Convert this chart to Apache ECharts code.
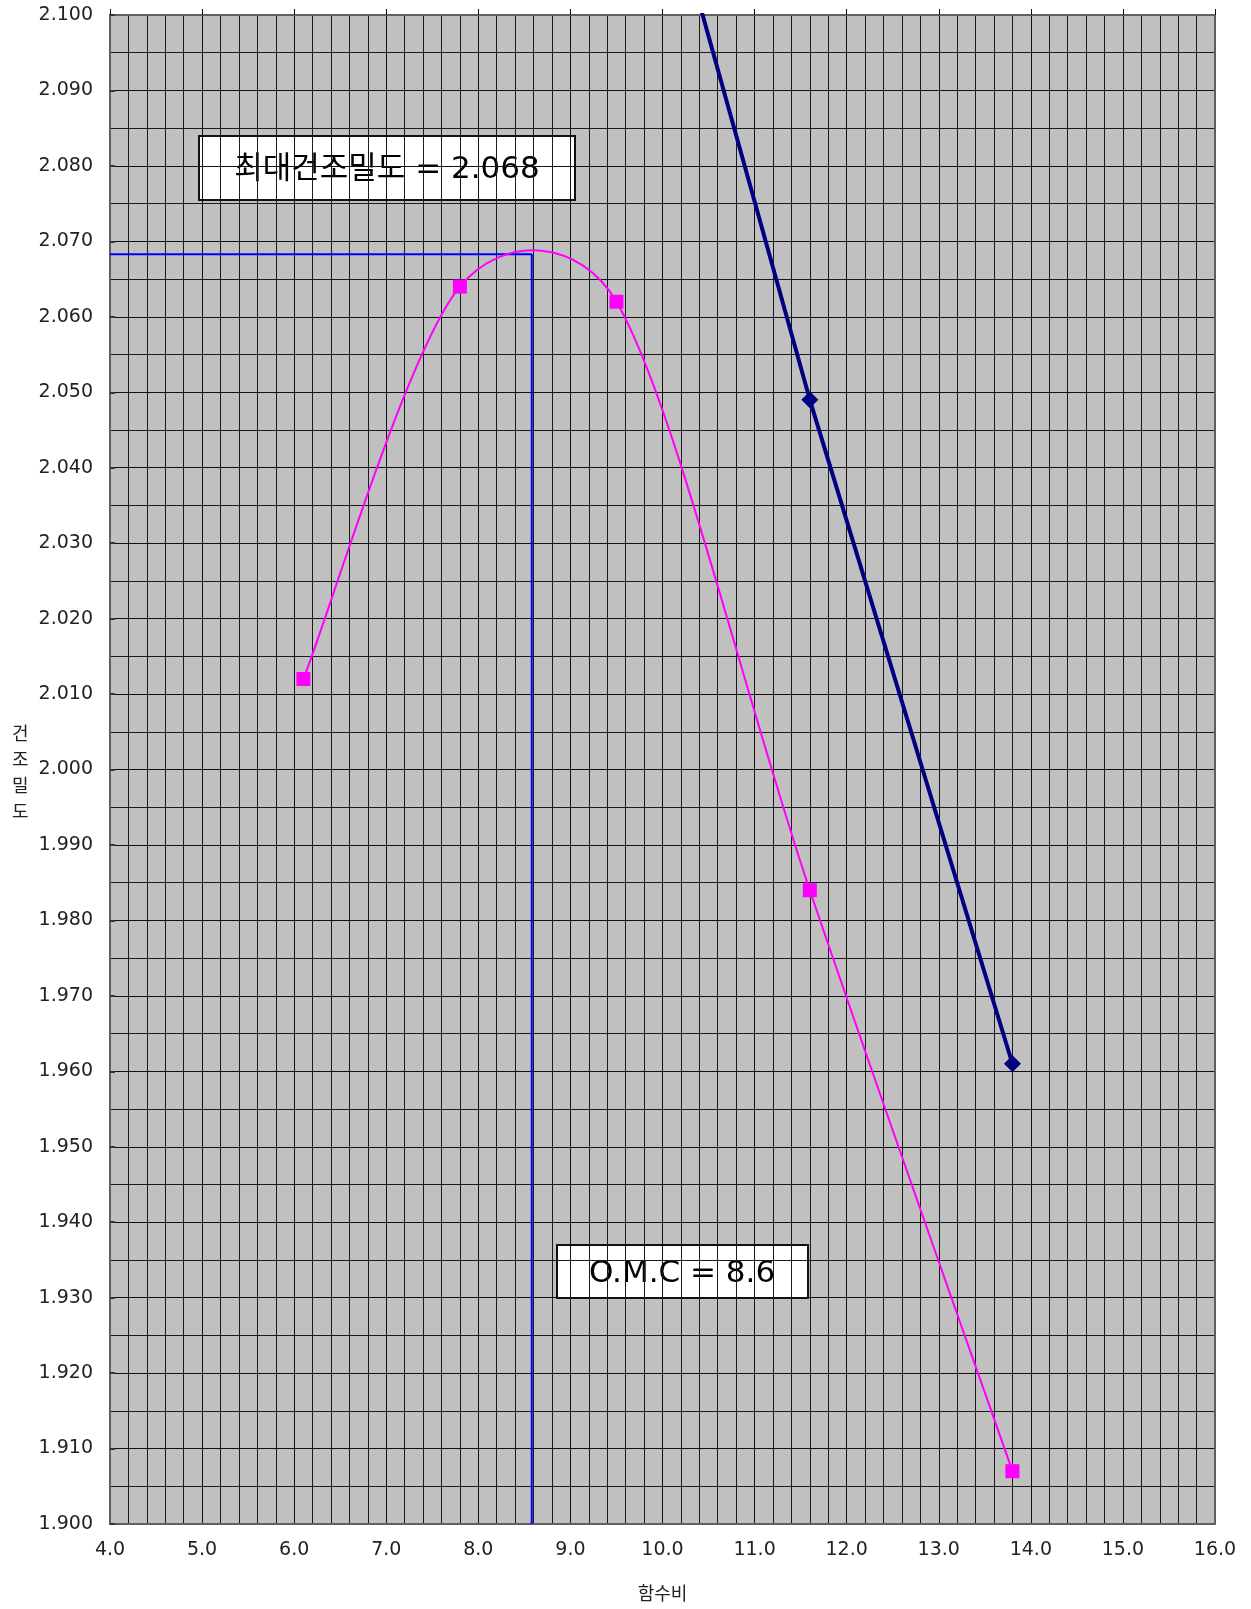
<!DOCTYPE html>
<html>
<head>
<meta charset="utf-8">
<script src="https://cdn.jsdelivr.net/npm/echarts@6/dist/echarts.min.js"></script>
<style>
html,body{margin:0;padding:0;background:#fff;}
#chart{width:1251px;height:1609px;}
</style>
</head>
<body>
<div id="chart"></div>
<script>
// Data
var waterContent = [6.1, 7.8, 9.5, 11.6, 13.8];
var dryDensity = [2.012, 2.064, 2.062, 1.984, 1.907];
var zavDensity = [2.315, 2.222, 2.141, 2.049, 1.961];
var omc = 8.58;
var maxDensity = 2.0683;
var xMin = 4, xMax = 16, yMin = 1.9, yMax = 2.1;
var labelMax = '최대건조밀도 = 2.068';
var labelOmc = 'O.M.C = 8.6';
var xName = '함수비';
var yName = '건조밀도';

var FONT = 'DejaVu Sans, "Noto Sans CJK KR", sans-serif';
var chart = echarts.init(document.getElementById('chart'));

function pairs(xs, ys){ return xs.map(function(x,i){ return [x, ys[i]]; }); }

// Smooth (Catmull-Rom style) curve through the measured points, via the axis scales
function renderSmooth(params, api){
  var pts = waterContent.map(function(x,i){ return api.coord([x, dryDensity[i]]); });
  var n = pts.length, k = 1/6, cap = 0.45, children = [];
  function dist(a,b){ return Math.sqrt((a[0]-b[0])*(a[0]-b[0])+(a[1]-b[1])*(a[1]-b[1])); }
  function tangent(i){
    var prev = pts[Math.max(0,i-1)], next = pts[Math.min(n-1,i+1)];
    return [(next[0]-prev[0])*k, (next[1]-prev[1])*k];
  }
  function limit(v, maxLen){
    var l = Math.sqrt(v[0]*v[0]+v[1]*v[1]);
    if (l > maxLen && l > 0){ return [v[0]*maxLen/l, v[1]*maxLen/l]; }
    return v;
  }
  for (var j = 0; j < n-1; j++){
    var a = pts[j], b = pts[j+1], seg = dist(a,b);
    var ta = limit(tangent(j), seg*cap), tb = limit(tangent(j+1), seg*cap);
    children.push({
      type: 'bezierCurve',
      shape: { x1: a[0], y1: a[1], x2: b[0], y2: b[1],
               cpx1: a[0]+ta[0], cpy1: a[1]+ta[1], cpx2: b[0]-tb[0], cpy2: b[1]-tb[1] },
      style: { stroke: '#ff00ff', lineWidth: 2, fill: null }
    });
  }
  return { type: 'group', children: children };
}

var option = {
  animation: false,
  backgroundColor: '#ffffff',
  grid: { left: 110, top: 15, right: 36, bottom: 85, show: true, backgroundColor: '#c0c0c0', borderWidth: 0 },
  xAxis: [{
    type: 'value', min: xMin, max: xMax, interval: 1,
    axisLine: { show: true, onZero: false, lineStyle: { color: '#606060', width: 2 } },
    axisTick: { show: false },
    axisLabel: { formatter: function(v){ return v.toFixed(1); }, fontSize: 19, color: '#222', fontFamily: FONT, margin: 17 },
    splitLine: { show: true, lineStyle: { color: '#111', width: 1 } },
    minorTick: { show: false, splitNumber: 5 },
    minorSplitLine: { show: true, lineStyle: { color: '#1a1a1a', width: 1 } },
    name: xName, nameLocation: 'middle', nameGap: 62,
    nameTextStyle: { fontSize: 18, color: '#222', fontFamily: FONT }
  }, {
    type: 'value', position: 'top', min: xMin, max: xMax, interval: 1,
    axisLine: { show: true, onZero: false, lineStyle: { color: '#606060', width: 2 } },
    axisTick: { show: true, length: 6, lineStyle: { color: '#111', width: 1 } },
    axisLabel: { show: false }, splitLine: { show: false }
  }],
  yAxis: [{
    type: 'value', min: yMin, max: yMax, interval: 0.01,
    axisLine: { show: true, onZero: false, lineStyle: { color: '#606060', width: 2 } },
    axisTick: { show: true, inside: true, length: 5, lineStyle: { color: '#333', width: 2 } },
    axisLabel: { formatter: function(v){ return v.toFixed(3); }, fontSize: 19, color: '#222', fontFamily: FONT, margin: 17 },
    splitLine: { show: true, lineStyle: { color: '#111', width: 1 } },
    minorTick: { show: false, splitNumber: 2 },
    minorSplitLine: { show: true, lineStyle: { color: '#1a1a1a', width: 1 } }
  }, {
    type: 'value', position: 'right', min: yMin, max: yMax, interval: 0.01,
    axisLine: { show: true, onZero: false, lineStyle: { color: '#606060', width: 2 } },
    axisTick: { show: false }, axisLabel: { show: false }, splitLine: { show: false }
  }],
  series: [
    {
      type: 'line', name: 'omcGuide', xAxisIndex: 0, yAxisIndex: 0,
      data: [[xMin, maxDensity], [omc, maxDensity], [omc, yMin]],
      symbol: 'none', lineStyle: { color: '#0000ff', width: 2 }, z: 3, silent: true
    },
    {
      type: 'line', name: 'zav', xAxisIndex: 0, yAxisIndex: 0,
      data: pairs(waterContent, zavDensity),
      symbol: 'diamond', symbolSize: 17,
      itemStyle: { color: '#000080' },
      lineStyle: { color: '#000080', width: 4 }, z: 4, clip: true
    },
    {
      type: 'custom', name: 'densityCurve', xAxisIndex: 0, yAxisIndex: 0,
      data: [[waterContent[0], dryDensity[0]]],
      renderItem: renderSmooth, z: 5, silent: true, clip: true
    },
    {
      type: 'scatter', name: 'density', xAxisIndex: 0, yAxisIndex: 0,
      data: pairs(waterContent, dryDensity),
      symbol: 'rect', symbolSize: 14,
      itemStyle: { color: '#ff00ff', opacity: 1 }, z: 6
    }
  ],
  graphic: [
    {
      type: 'group', left: 198, top: 135, z: 100,
      children: [
        { type: 'rect', shape: { x: 0, y: 0, width: 376, height: 64 }, style: { fill: '#fff', stroke: '#111', lineWidth: 2 } },
        { type: 'text', style: { x: 188, y: 34, text: labelMax, fontSize: 31, fontFamily: FONT, fill: '#000', textAlign: 'center', textVerticalAlign: 'middle' } }
      ]
    },
    {
      type: 'group', left: 556, top: 1244, z: 100,
      children: [
        { type: 'rect', shape: { x: 0, y: 0, width: 251, height: 53 }, style: { fill: '#fff', stroke: '#111', lineWidth: 2 } },
        { type: 'text', style: { x: 125, y: 29, text: labelOmc, fontSize: 31, fontFamily: FONT, fill: '#000', textAlign: 'center', textVerticalAlign: 'middle' } }
      ]
    },
    {
      type: 'text', left: 12, top: 722, z: 100,
      style: { text: yName.split('').join('\n'), fontSize: 18, lineHeight: 26, fontFamily: FONT, fill: '#222', textAlign: 'center' }
    }
  ]
};
chart.setOption(option);
</script>
</body>
</html>
